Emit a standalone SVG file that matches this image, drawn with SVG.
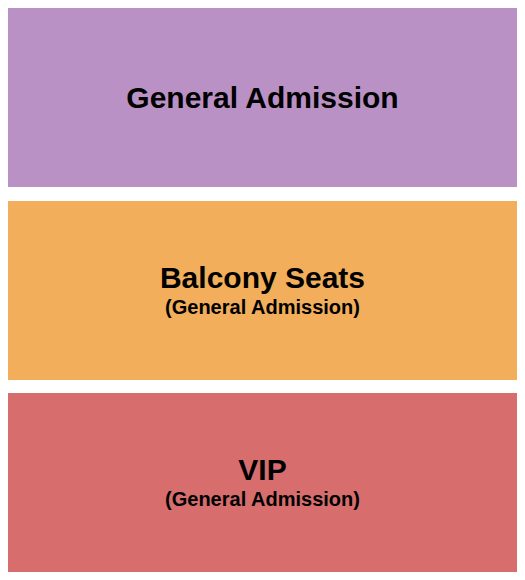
<svg xmlns="http://www.w3.org/2000/svg" width="525" height="580" viewBox="0 0 525 580">
<style>
.t{font-family:"Liberation Sans",Arial,sans-serif;font-weight:bold;fill:#000;text-anchor:middle}
.big{font-size:30px}
.sub{font-size:20px}
</style>
<rect width="525" height="580" fill="#fff"/>
<g id="general-admission">
<rect x="8" y="8" width="509" height="179" fill="#BA91C4"/>
<text class="t big" x="262.5" y="108">General Admission</text>
</g>
<g id="balcony-seats">
<rect x="8" y="201" width="509" height="179" fill="#F2AE5B"/>
<text class="t big" x="262.5" y="288">Balcony Seats</text>
<text class="t sub" x="262.5" y="314">(General Admission)</text>
</g>
<g id="vip">
<rect x="8" y="393" width="509" height="179" fill="#D86D6D"/>
<text class="t big" x="262.5" y="480">VIP</text>
<text class="t sub" x="262.5" y="506">(General Admission)</text>
</g>
<g id="connectors"></g>
</svg>
